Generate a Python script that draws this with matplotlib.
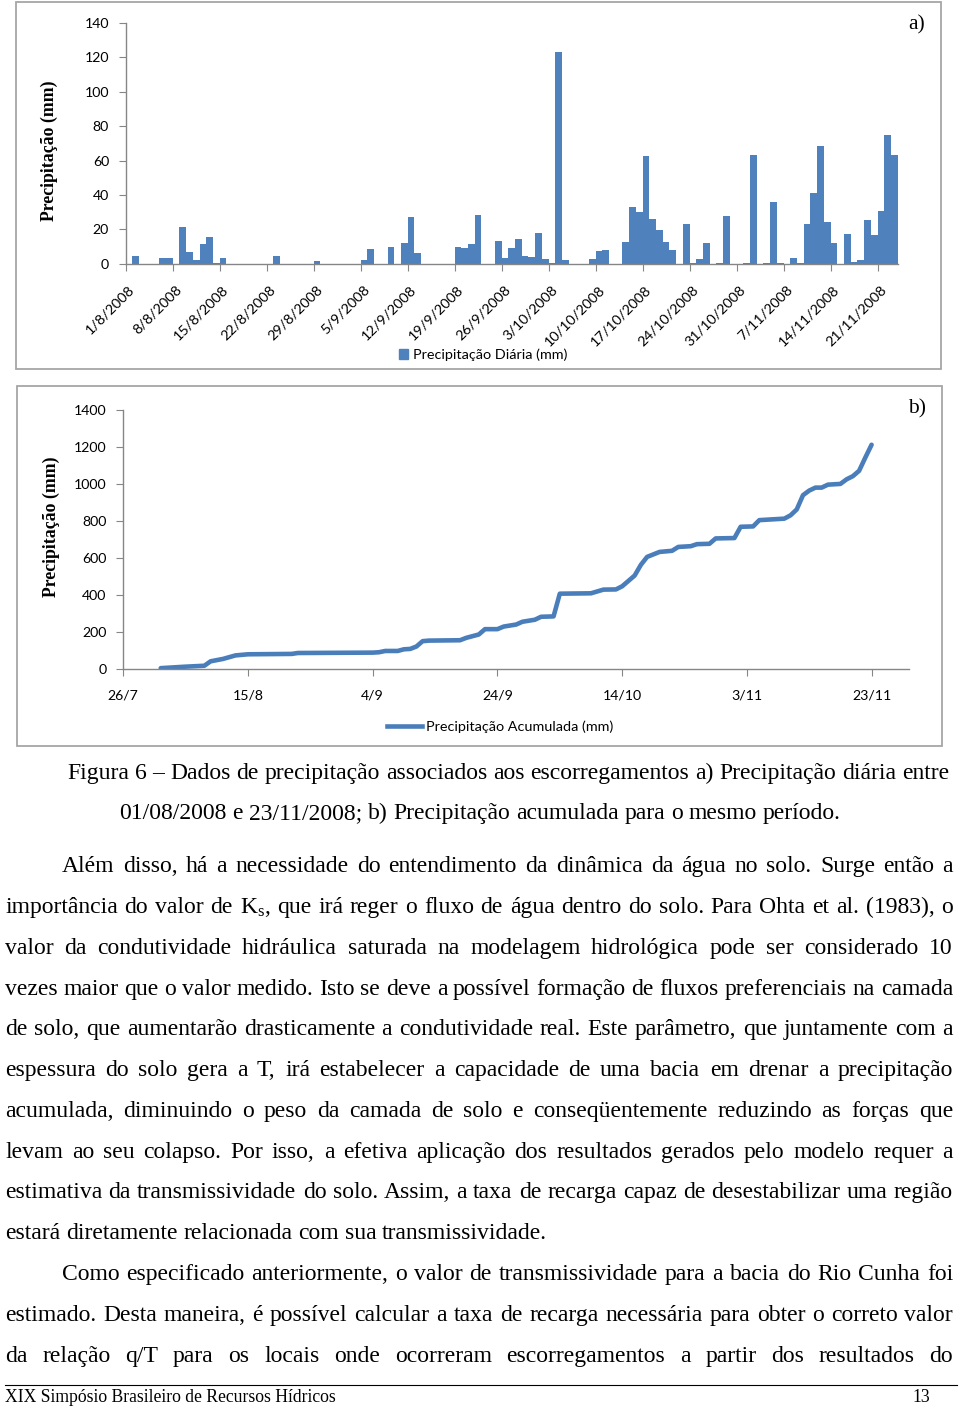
import numpy as np
import matplotlib
matplotlib.use("Agg")
import matplotlib.pyplot as plt
from matplotlib.patches import Rectangle, Patch
from matplotlib.lines import Line2D

# ================================
# Data
# ================================
# a) daily rainfall, one value per day from 1/8/2008 (index 0) to 23/11/2008 (index 114)
daily = [
    0, 4.3, 0, 0, 0, 3.1, 3.5, 0, 21.3, 7.0,
    2.3, 11.7, 15.4, 0.6, 3.5, 0, 0, 0, 0, 0,
    0, 0, 4.3, 0, 0, 0, 0, 0, 1.6, 0,
    0, 0, 0, 0, 0, 2.2, 8.4, 0, 0, 9.6,
    0, 12.1, 27.0, 6.1, 0, 0, 0, 0, 0, 9.6,
    9.4, 11.7, 28.3, 0, 0, 13.1, 3.5, 9.2, 14.1, 4.3,
    4.1, 17.8, 2.5, 0.4, 123.0, 2.3, 0, 0, 0, 2.5,
    7.6, 8.2, 0, 0, 12.9, 33.2, 30.3, 62.4, 26.2, 19.4,
    12.5, 8.2, 0, 22.9, 0.4, 2.9, 12.1, 0, 0.6, 27.6,
    0, 0, 0.6, 63.5, 0, 0.6, 36.0, 0.4, 0, 3.1,
    0.6, 22.9, 41.4, 68.4, 24.0, 12.3, 0, 17.2, 1.0, 2.3,
    25.2, 16.8, 30.9, 75.1, 63.5,
]
daily_labels = ["1/8/2008", "8/8/2008", "15/8/2008", "22/8/2008", "29/8/2008",
                "5/9/2008", "12/9/2008", "19/9/2008", "26/9/2008", "3/10/2008",
                "10/10/2008", "17/10/2008", "24/10/2008", "31/10/2008",
                "7/11/2008", "14/11/2008", "21/11/2008"]
daily_label_days = [0, 7, 14, 21, 28, 35, 42, 49, 56, 63, 70, 77, 84, 91, 98, 105, 112]

# b) accumulated rainfall (day index counted from 1/8/2008)
cum_day = [0, 4, 7, 8, 10, 12, 14, 21, 22, 34,
           35, 36, 38, 39, 40, 41, 42, 43, 48, 49,
           51, 52, 54, 55, 57, 58, 60, 61, 63, 64,
           69, 71, 73, 74, 76, 77, 78, 80, 82, 83,
           85, 86, 88, 89, 92, 93, 95, 96, 100, 101,
           102, 103, 104, 105, 106, 107, 109, 110, 111, 112,
           113, 114]
cum_val = [3, 11, 16, 40, 53, 72, 78, 80, 85, 87,
           89, 96, 96, 105, 107, 120, 149, 152, 154, 167,
           185, 214, 214, 228, 239, 254, 265, 281, 283, 406,
           408, 428, 429, 446, 504, 562, 605, 632, 638, 659,
           663, 674, 676, 705, 707, 768, 770, 804, 812, 830,
           862, 939, 964, 980, 980, 996, 1000, 1025, 1042, 1071,
           1143, 1212]
cum_tick_days = [-6, 14, 34, 54, 74, 94, 114]
cum_tick_labels = ["26/7", "15/8", "4/9", "24/9", "14/10", "3/11", "23/11"]

# ================================
# Page text
# ================================
caption = [
    (67, 773, "Figura 6 – Dados de precipitação associados aos escorregamentos a) Precipitação diária entre"),
    (119, 813, "01/08/2008 e 23/11/2008; b) Precipitação acumulada para o mesmo período."),
]
body = [
    (62, 866, True, "Além disso, há a necessidade do entendimento da dinâmica da água no solo. Surge então a"),
    (5, 907, True, r"importância do valor de K$_{\mathrm{s}}$, que irá reger o fluxo de água dentro do solo. Para Ohta et al. (1983), o"),
    (5, 948, True, "valor da condutividade hidráulica saturada na modelagem hidrológica pode ser considerado 10"),
    (5, 989, True, "vezes maior que o valor medido. Isto se deve a possível formação de fluxos preferenciais na camada"),
    (5, 1029, True, "de solo, que aumentarão drasticamente a condutividade real. Este parâmetro, que juntamente com a"),
    (5, 1070, True, "espessura do solo gera a T, irá estabelecer a capacidade de uma bacia em drenar a precipitação"),
    (5, 1111, True, "acumulada, diminuindo o peso da camada de solo e conseqüentemente reduzindo as forças que"),
    (5, 1152, True, "levam ao seu colapso.  Por isso, a efetiva aplicação dos resultados gerados pelo modelo requer a"),
    (5, 1192, True, "estimativa da transmissividade do solo. Assim, a taxa de recarga capaz de desestabilizar uma região"),
    (5, 1233, False, "estará diretamente relacionada com sua transmissividade."),
    (62, 1274, True, "Como especificado anteriormente, o valor de transmissividade para a bacia do Rio Cunha foi"),
    (5, 1315, True, "estimado. Desta maneira, é possível calcular a taxa de recarga necessária para obter o correto valor"),
    (5, 1356, True, "da relação q/T para os locais onde ocorreram escorregamentos a partir dos resultados do"),
]

W, H = 960, 1410
BLUE = "#4F81BD"
AXC = "#868686"
SANS = "Lato"
SERIF = "Liberation Serif"
plt.rcParams["mathtext.fontset"] = "custom"
plt.rcParams["mathtext.rm"] = SERIF
plt.rcParams["mathtext.it"] = SERIF + ":italic"

fig = plt.figure(figsize=(W / 100, H / 100), dpi=100)
fig.patch.set_facecolor("white")


def fx(px):
    return px / W


def fy(py):
    return 1 - py / H


# chart frames
for x0, y0, x1, y1 in [(16, 2, 941, 369), (17, 386, 942, 746)]:
    fig.patches.append(Rectangle((fx(x0), fy(y1)), fx(x1 - x0), (y1 - y0) / H,
                                 transform=fig.transFigure, fill=False,
                                 edgecolor="#a6a6a6", lw=1.3))


def style_axis(ax):
    for s in ["top", "right"]:
        ax.spines[s].set_visible(False)
    for s in ["left", "bottom"]:
        ax.spines[s].set_color(AXC)
        ax.spines[s].set_linewidth(1.0)


# -----------------------------------
# a) daily rainfall bars
# -----------------------------------
ax_a = fig.add_axes([fx(125.7), fy(263.7), (897.7 - 125.7) / W, (263.7 - 23) / H])
ax_a.bar(np.arange(len(daily)) + 0.5, daily, width=1.0, color=BLUE, linewidth=0)
ax_a.set_xlim(0, len(daily))
ax_a.set_ylim(0, 140)
style_axis(ax_a)
ax_a.set_yticks(range(0, 141, 20))
ax_a.tick_params(axis="y", direction="out", length=5, color=AXC, labelsize=10.2,
                 pad=7, labelcolor="black")
ax_a.set_xticks(range(0, 113, 7))
ax_a.set_xticklabels([])
ax_a.tick_params(axis="x", direction="out", length=5, color=AXC)
for lab in ax_a.get_yticklabels():
    lab.set_family(SANS)
for d, lab in zip(daily_label_days, daily_labels):
    ax_a.text(d + 1.0, -0.10, lab, transform=ax_a.get_xaxis_transform(),
              rotation=45, rotation_mode="anchor", ha="right", va="center",
              fontsize=10.4, family=SANS)
ax_a.set_ylabel("Precipitação (mm)", family=SERIF, fontweight="bold", fontsize=12.8)
ax_a.yaxis.set_label_coords((58 - 125.7) / (897.7 - 125.7), 0.47)
fig.text(fx(917), fy(25), "a)", family=SERIF, fontsize=15.5, ha="center", va="center")
fig.legend(handles=[Patch(color=BLUE, label="Precipitação Diária (mm)")],
           loc="center", bbox_to_anchor=(fx(483), fy(355)), frameon=False,
           prop={"family": SANS, "size": 10.4}, handlelength=0.65, handleheight=0.65,
           handletextpad=0.35)

# -----------------------------------
# b) accumulated rainfall line
# -----------------------------------
ax_b = fig.add_axes([fx(123.3), fy(668.7), (909 - 123.3) / W, (668.7 - 410) / H])
ax_b.plot(cum_day, cum_val, color="#4A7EBB", lw=3.3, solid_joinstyle="round",
          solid_capstyle="round")
ax_b.set_xlim(-6, 120)
ax_b.set_ylim(0, 1400)
style_axis(ax_b)
ax_b.set_yticks(range(0, 1401, 200))
ax_b.set_xticks(cum_tick_days)
ax_b.set_xticklabels(cum_tick_labels)
ax_b.tick_params(axis="both", direction="out", length=5, color=AXC, labelsize=10.2,
                 labelcolor="black")
ax_b.tick_params(axis="y", pad=7)
ax_b.tick_params(axis="x", pad=10)
for lab in ax_b.get_xticklabels() + ax_b.get_yticklabels():
    lab.set_family(SANS)
ax_b.set_ylabel("Precipitação (mm)", family=SERIF, fontweight="bold", fontsize=12.8)
ax_b.yaxis.set_label_coords((60 - 123.3) / (909 - 123.3), 0.548)
fig.text(fx(917), fy(409), "b)", family=SERIF, fontsize=15.5, ha="center", va="center")
fig.legend(handles=[Line2D([], [], color="#4A7EBB", lw=3.3,
                           label="Precipitação Acumulada (mm)")],
           loc="center", bbox_to_anchor=(fx(500), fy(727)), frameon=False,
           prop={"family": SANS, "size": 10.4}, handlelength=2.4, handletextpad=0.3)

# -----------------------------------
# caption and body text (justified word by word)
# -----------------------------------
renderer = fig.canvas.get_renderer()
TXT = 17.0


def width_of(s, size):
    t = fig.text(0, 0, s, family=SERIF, fontsize=size)
    w = t.get_window_extent(renderer).width
    t.remove()
    return w


space_w = width_of("a a", TXT) - width_of("aa", TXT)


def put_line(x0, y, text, justify, x1=953, size=TXT):
    words = text.split()
    widths = [width_of(w, size) for w in words]
    if justify and len(words) > 1:
        gap = (x1 - x0 - sum(widths)) / (len(words) - 1)
    else:
        gap = space_w
    x = x0
    for w, wd in zip(words, widths):
        fig.text(fx(x), fy(y + 6), w, family=SERIF, fontsize=size,
                 ha="left", va="baseline")
        x += wd + gap


for x0, y, text in caption:
    put_line(x0, y, text, False)
for x0, y, just, text in body:
    put_line(x0, y, text, just)

# footer
fig.add_artist(Line2D([fx(5), fx(957)], [fy(1385), fy(1385)], color="black", lw=0.8))
fig.text(fx(5), fy(1397), "XIX Simpósio Brasileiro de Recursos Hídricos", family=SERIF,
         fontsize=12.7, ha="left", va="center")
fig.text(fx(930), fy(1397), "13", family=SERIF, fontsize=12.7, ha="right", va="center")

plt.savefig("out.png", dpi=100)
plt.close()
